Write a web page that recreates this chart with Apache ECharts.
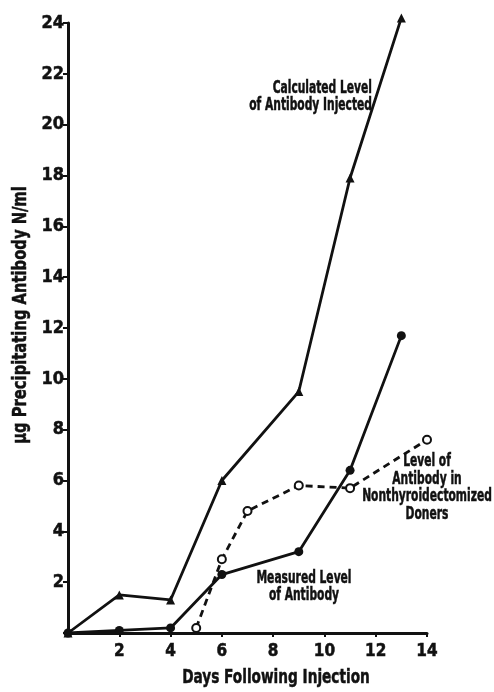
<!DOCTYPE html>
<html>
<head>
<meta charset="utf-8">
<title>Precipitating Antibody Levels</title>
<script src="https://cdn.jsdelivr.net/npm/echarts@6/dist/echarts.min.js"></script>
<style>
  html, body { margin: 0; padding: 0; background: #fff; }
  #chart { width: 494px; height: 692px; }
</style>
</head>
<body>
<div id="chart"></div>
<script>
// Days after injection and antibody levels (µg precipitating antibody N/ml)
const calculatedDays   = [0, 2, 4, 6, 9, 11, 13];
const calculatedLevels = [0, 1.5, 1.3, 6.0, 9.5, 17.9, 24.2];

const measuredDays   = [0, 2, 4, 6, 9, 11, 13];
const measuredLevels = [0, 0.1, 0.2, 2.3, 3.2, 6.4, 11.7];

const donorDays   = [5, 6, 7, 9, 11, 14];
const donorLevels = [0.2, 2.9, 4.8, 5.8, 5.7, 7.6];

const xTicks = [2, 4, 6, 8, 10, 12, 14];
const yTicks = [2, 4, 6, 8, 10, 12, 14, 16, 18, 20, 22, 24];

const xTitle = 'Days Following Injection';
const yTitle = 'µg Precipitating Antibody N/ml';
const calculatedNote = 'Calculated Level\nof Antibody Injected';
const measuredNote = 'Measured Level\nof Antibody';
const donorNote = 'Level of\nAntibody in\nNonthyroidectomized\nDoners';

// condensed bold lettering; squeezed horizontally to a narrow gothic look
const FONT = '"DejaVu Sans Condensed", "DejaVu Sans", sans-serif';
const INK = '#111';

const pairs = (xs, ys) => xs.map((x, i) => [x, ys[i]]);

function label(text, x, y, size, opts, align) {
  return Object.assign({
    type: 'text',
    x: x, y: y,
    scaleX: 0.72,
    z: 10,
    style: {
      text: text,
      font: 'bold ' + size + 'px ' + FONT,
      fill: INK,
      stroke: INK,
      lineWidth: 0.5,
      align: align || 'center',
      verticalAlign: 'middle',
      lineHeight: 17.5
    }
  }, opts || {});
}

const tickLabelStyle = {
  fontFamily: FONT, fontWeight: 'bold', color: INK,
  textBorderColor: INK, textBorderWidth: 0.5
};

const chart = echarts.init(document.getElementById('chart'), null, { renderer: 'canvas' });

chart.setOption({
  backgroundColor: '#fff',
  animation: false,
  grid: { left: 68, right: 67, top: 23, bottom: 59, containLabel: false },
  xAxis: {
    type: 'value',
    min: 0, max: 14, interval: 2,
    axisLine: { lineStyle: { color: INK, width: 3 } },
    axisTick: { show: true, length: 4, lineStyle: { color: INK, width: 2 } },
    axisLabel: Object.assign({}, tickLabelStyle, {
      fontSize: 17, margin: 10,
      formatter: v => (xTicks.indexOf(v) >= 0 ? String(v) : '')
    }),
    splitLine: { show: false }
  },
  yAxis: {
    type: 'value',
    min: 0, max: 24, interval: 2,
    axisLine: { show: true, lineStyle: { color: INK, width: 3 } },
    axisTick: { show: true, length: 5, lineStyle: { color: INK, width: 2 } },
    axisLabel: Object.assign({}, tickLabelStyle, {
      fontSize: 18, margin: 4,
      formatter: v => (yTicks.indexOf(v) >= 0 ? String(v) : '')
    }),
    splitLine: { show: false }
  },
  series: [
    {
      name: 'Calculated Level of Antibody Injected',
      type: 'line',
      data: pairs(calculatedDays, calculatedLevels),
      clip: false,
      symbol: 'triangle',
      symbolSize: 9,
      lineStyle: { color: INK, width: 2.8 },
      itemStyle: { color: INK, borderColor: INK, borderWidth: 0 },
      z: 3
    },
    {
      name: 'Measured Level of Antibody',
      type: 'line',
      data: pairs(measuredDays, measuredLevels),
      clip: false,
      symbol: 'circle',
      symbolSize: 9,
      lineStyle: { color: INK, width: 2.8 },
      itemStyle: { color: INK, borderColor: INK, borderWidth: 0 },
      z: 3
    },
    {
      name: 'Level of Antibody in Nonthyroidectomized Doners',
      type: 'line',
      data: pairs(donorDays, donorLevels),
      clip: false,
      symbol: 'circle',
      symbolSize: 8,
      lineStyle: { color: INK, width: 2.8, type: [7, 5] },
      itemStyle: { color: '#fff', borderColor: INK, borderWidth: 2 },
      z: 4
    }
  ],
  graphic: [
    // axis titles
    label(xTitle, 276, 678, 20, { scaleX: 0.76 }),
    label(yTitle, 21, 315, 20, { rotation: Math.PI / 2, scaleX: 0.82 }),
    // curve annotations
    label(calculatedNote, 372, 97, 17, { scaleX: 0.7 }, 'right'),
    label(measuredNote, 304, 587, 17, { scaleX: 0.7 }),
    label(donorNote, 427, 488, 17, { scaleX: 0.7 })
  ]
});
</script>
</body>
</html>
